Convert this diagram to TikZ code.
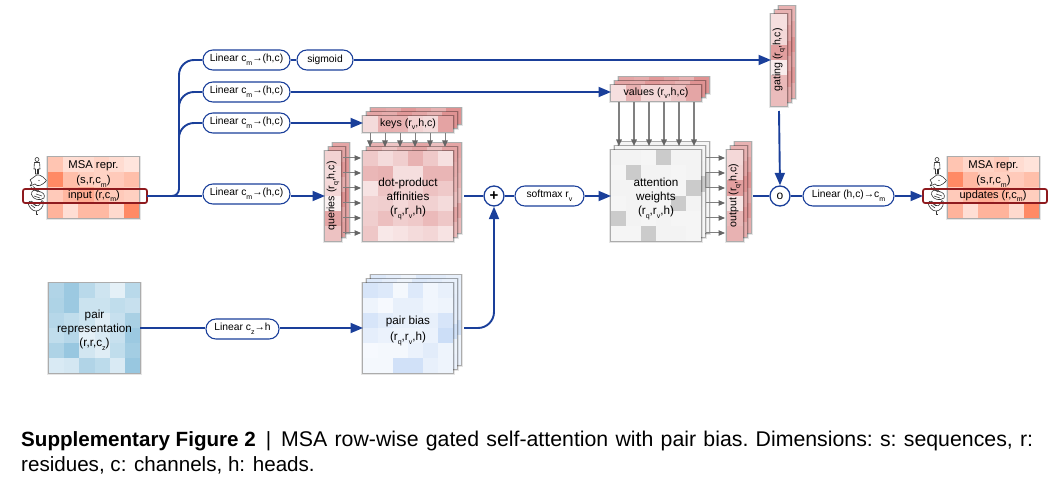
\documentclass[tikz,border=0pt]{standalone}
\usepackage{fontspec}
\usepackage{graphicx}
\setmainfont{Liberation Sans}
\usetikzlibrary{arrows.meta,calc}
\definecolor{flowblue}{HTML}{1A3F9A}
\definecolor{msabase}{HTML}{FF8A65}
\definecolor{pinkbase}{HTML}{D97F7F}
\definecolor{pairbase}{HTML}{93C4DE}
\definecolor{biasbase}{HTML}{C6DAF6}
\definecolor{graybase}{HTML}{A8A8A8}
\definecolor{boxred}{HTML}{8E1A1E}
\newcommand{\heatgrid}[7]{%
  \foreach \v [count=\i from 0] in {#7} {
    \pgfmathtruncatemacro\cx{mod(\i,#5)}
    \pgfmathtruncatemacro\cy{int(\i/#5)}
    \fill[#6!\v!white] ({#1+\cx*#3},{#2+\cy*#4}) rectangle +({#3+.2},{#4+.2});
  }}
\newcommand{\boxshadow}[4]{%
  \fill[black,opacity=.10] ({#1-1.6},{#2-1.2}) rectangle ({#1+#3+1.8},{#2+#4+2});
  \fill[black,opacity=.25] ({#1-.7},{#2-.5}) rectangle ({#1+#3+.9},{#2+#4+1.1});}
% x y cw ch cols rows base backlist frontlist
\newcommand{\stackgrid}[9]{%
  \pgfmathsetmacro\bw{#3*#5}\pgfmathsetmacro\bh{#4*#6}
  \boxshadow{#1+8}{#2-8}{\bw}{\bh}\heatgrid{#1+8}{#2-8}{#3}{#4}{#5}{#7}{#8}
  \boxshadow{#1+4}{#2-4}{\bw}{\bh}\heatgrid{#1+4}{#2-4}{#3}{#4}{#5}{#7}{#8}
  \boxshadow{#1}{#2}{\bw}{\bh}\heatgrid{#1}{#2}{#3}{#4}{#5}{#7}{#9}}
\newcommand{\sbs}[1]{\raisebox{-3.6pt}{\fontsize{7}{7}\selectfont #1}}
\newcommand{\lab}{\fontsize{11.7}{14.2}\selectfont}
\newcommand{\labm}{\fontsize{11.3}{15}\selectfont}
\newcommand{\labs}{\fontsize{10.6}{13}\selectfont}
\newcommand{\tstrut}{\rule{0pt}{14.5pt}}
\begin{document}
\begin{tikzpicture}[x=1pt,y=-1pt,
  flow/.style={draw=flowblue,line width=1.9pt},
  flowarrow/.style={flow,-{Triangle[length=12.5pt,width=10pt]}},
  thinarrow/.style={draw=black!50,line width=1pt,-{Triangle[length=6.5pt,width=5.5pt,color=black!60]}},
  pill/.style={draw=flowblue,line width=1.1pt,fill=white,rounded corners=9.9pt,minimum height=20pt,inner sep=0pt,font=\fontsize{10.3}{12}\selectfont},
  opcircle/.style={circle,draw=flowblue,line width=1.3pt,fill=white,minimum size=20pt,inner sep=0pt},
  cell/.style={anchor=north west,inner sep=0pt,outer sep=0pt,align=center},
  rowbox/.style={draw=boxred,line width=1.7pt,rounded corners=2pt,inner sep=0pt,outer sep=0pt,minimum width=124pt,minimum height=14pt,anchor=north west,font=\fontsize{11}{13}\selectfont},
  iconline/.style={draw=black!80,line width=.6pt,fill=white,line join=round},
  species/.pic={
    % human
    \draw[iconline] (0,-29.5) circle (2);
    \draw[iconline] (-2.6,-26.5) -- (2.6,-26.5) -- (3,-20) -- (1.5,-20) -- (1.5,-15) -- (-1.5,-15) -- (-1.5,-20) -- (-3,-20) -- cycle;
    \draw[iconline] (0,-20) -- (0,-15);
    % fish
    \draw[iconline] (-7,-9) -- (-3,-12) .. controls (0,-16) and (5,-14) .. (9.5,-8.5) .. controls (5,-3) and (0,-2) .. (-2,-5) -- (-7,-3) -- (-5,-6) -- cycle;
    \fill[black!80] (2,-8.5) circle (.7);
    % rabbit
    \draw[iconline] (-5.5,5.5) .. controls (-6,1) and (-2,0) .. (2,2.5) .. controls (6,3) and (8.5,6) .. (7,9) .. controls (3,12) and (-4,11) .. (-5.5,5.5);
    \draw[iconline] (-6,-1.5) -- (1,3) (-4,-2.5) -- (3,3) (-3,7) -- (3,9) (-1,5) -- (5,7);
    % rooster
    \draw[iconline] (-9,14) .. controls (-7,11) and (-4,12) .. (-3,15) .. controls (0,18) and (3,17) .. (4,13) .. controls (4,11) and (6,11) .. (6.5,13) .. controls (6.5,18) and (3,22) .. (-1,22) .. controls (-5,22) and (-8,18) .. (-9,14);
    \draw[iconline] (-1,22) -- (-1,25.5) -- (1,25.5);
    \draw[iconline] (-6,16) -- (-2,19) (-5,14) -- (-1,17);
  }]
\useasboundingbox (0,0) rectangle (1061,489);

% ----- grids
\boxshadow{48}{157}{91}{61}
\heatgrid{48}{157}{15.17}{15.25}{6}{msabase}{50,28,30,38,30,22, 100,55,42,38,45,55, 45,62,72,55,45,40, 65,28,60,60,32,100}
\boxshadow{948}{157}{91}{61}
\heatgrid{948}{157}{15.17}{15.25}{6}{msabase}{50,35,38,45,30,24, 100,60,42,40,45,55, 45,62,70,62,48,42, 65,28,65,65,32,100}
\stackgrid{363}{151}{15}{15}{6}{6}{pinkbase}{60,45,60,70,50,70,60,50,45,55,60,65,60,45,50,50,70,60,45,55,65,50,45,50,60,50,65,45,55,70,45,60,50,60,45,55}{42,28,38,60,42,24, 56,60,26,26,58,58, 22,46,36,34,48,42, 36,38,30,38,36,28, 38,50,38,42,54,44, 44,18,22,28,32,22}
\stackgrid{363}{116}{15}{16}{6}{1}{pinkbase}{70,65,80,70,60,85}{28,62,60,35,28,72}
\stackgrid{325}{151}{16}{15}{1}{6}{pinkbase}{70,80,65,85,70,75}{35,28,30,12,70,48}
\stackgrid{611}{85}{15}{16}{6}{1}{pinkbase}{70,65,80,70,60,85}{25,60,30,30,45,70}
\stackgrid{611}{150}{15}{15.17}{6}{6}{graybase}{12,12,14,12,14,12, 12,14,12,12,12,14, 14,12,12,14,12,60, 12,12,14,12,60,14, 14,12,12,14,12,12, 12,14,12,12,14,12}{14,14,12,60,14,14, 12,60,14,14,12,14, 14,14,12,14,12,60, 12,14,14,12,60,14, 60,14,12,14,12,12, 12,12,60,14,14,12}
\stackgrid{727}{150}{16}{15.17}{1}{6}{pinkbase}{60,70,85,70,80,65}{30,35,75,20,55,60}
\stackgrid{771}{14}{16}{15.33}{1}{6}{pinkbase}{60,70,85,70,80,65}{25,30,75,15,55,52}
\boxshadow{49}{283}{91}{90}
\heatgrid{49}{283}{15.17}{15}{6}{pairbase}{72,92,65,45,25,65, 75,92,48,48,58,52, 68,58,48,30,52,80, 58,68,25,35,52,92, 75,95,42,30,58,85, 35,40,72,62,35,95}
\stackgrid{363}{283}{15}{15}{6}{6}{biasbase}{60,45,30,60,50,40,40,25,50,35,60,45,60,45,50,30,70,45,40,30,50,60,35,80,30,50,25,45,40,30,40,30,60,50,40,35}{70,60,20,60,25,40, 30,15,40,40,25,30, 70,50,40,40,40,70, 45,35,30,30,35,90, 15,20,20,35,50,30, 20,20,80,80,40,30}

% ----- species icons
\pic at (37,189) {species};
\pic at (937,189) {species};

% ----- labelled boxes
\node[cell,minimum width=91pt,minimum height=31pt,font=\labm] (msaA) at (48,157) {\rule{0pt}{10.5pt}MSA repr.\\(s,r,c\sbs{m})};
\node[cell,minimum width=91pt,minimum height=31pt,font=\labm] (msaB) at (948,157) {\rule{0pt}{10.5pt}MSA repr.\\(s,r,c\sbs{m})};
\node[rowbox] (inbox) at (23,189) {\hspace*{18pt}input (r,c\sbs{m})};
\node[rowbox] (upbox) at (923,189) {\hspace*{16pt}updates (r,c\sbs{m})};
\node[cell,minimum width=90pt,minimum height=90pt,font=\lab] (affin) at (363,151) {\tstrut dot-product\\affinities\\(r\sbs{q},r\sbs{v},h)};
\node[cell,minimum width=90pt,minimum height=16pt,font=\labs] (keys) at (363,116) {keys (r\sbs{v},h,c)};
\node[cell,minimum width=16pt,minimum height=90pt,font=\labs] (queries) at (325,151) {\rotatebox{90}{queries (r\sbs{q},h,c)}};
\node[cell,minimum width=90pt,minimum height=16pt,font=\labs] (values) at (611,85) {values (r\sbs{v},h,c)};
\node[cell,minimum width=90pt,minimum height=91pt,font=\lab] (atten) at (611,150) {\tstrut attention\\weights\\(r\sbs{q},r\sbs{v},h)};
\node[cell,minimum width=16pt,minimum height=91pt,font=\labs] (output) at (727,150) {\rotatebox{90}{output (r\sbs{q},h,c)}};
\node[cell,minimum width=16pt,minimum height=92pt,font=\labs] (gating) at (771,14) {\rotatebox{90}{gating (r\sbs{q},h,c)}};
\node[cell,minimum width=91pt,minimum height=90pt,font=\lab] (pairrep) at (49,283) {\rule{0pt}{13pt}pair\\representation\\(r,r,c\sbs{z})};
\node[cell,minimum width=90pt,minimum height=90pt,font=\fontsize{11.7}{16}\selectfont] (pairbias) at (363,283) {\tstrut pair bias\\(r\sbs{q},r\sbs{v},h)};

% ----- junctions
\coordinate (trunk) at (179,196);
\coordinate (topA) at (179,60);
\coordinate (topB) at (179,92);
\coordinate (topC) at (179,123);
\coordinate (legB) at (179,125);
\coordinate (legC) at (179,153);

% ----- operation nodes
\node[pill,minimum width=87pt] (linA) at (246.5,60) {Linear c\sbs{m}→(h,c)};
\node[pill,minimum width=56pt] (sigm) at (325,60) {sigmoid};
\node[pill,minimum width=87pt] (linB) at (246.5,92) {Linear c\sbs{m}→(h,c)};
\node[pill,minimum width=87pt] (linC) at (246.5,123) {Linear c\sbs{m}→(h,c)};
\node[pill,minimum width=87pt] (linD) at (246.5,194) {Linear c\sbs{m}→(h,c)};
\node[pill,minimum width=73pt] (linZ) at (242.5,329) {Linear c\sbs{z}→h};
\node[pill,minimum width=69pt] (softm) at (549.5,196) {softmax r\sbs{v}};
\node[pill,minimum width=91pt] (linOut) at (848.5,196) {Linear (h,c)→c\sbs{m}};
\node[opcircle,font=\bfseries\fontsize{15}{15}\selectfont] (plus) at (494,196) {+};
\node[opcircle,font=\fontsize{12}{12}\selectfont] (dot) at (780,196) {o};

% ----- connectors
\draw[flow,rounded corners=7pt] (inbox.east) -- (trunk) -- (legB);
\draw[flow,rounded corners=15pt] (legB) -- (topA) -- (linA.west);
\draw[flow,rounded corners=15pt] (legB) -- (topB) -- (linB.west);
\draw[flow,rounded corners=15pt] (legC) -- (topC) -- (linC.west);
\draw[flow] (inbox.east) -- (inbox.east -| linD.west);
\draw[flowarrow] (queries.west -| linD.east) -- (queries.west);
\draw[flow] (linA.east) -- (sigm.west);
\draw[flowarrow] (sigm.east) -- (sigm.east -| gating.west);
\draw[flowarrow] (linB.east) -- (linB.east -| values.west);
\draw[flowarrow] (linC.east) -- (linC.east -| keys.west);
\draw[flow] ([xshift=11pt]affin.east) -- (plus.west);
\draw[flow] (plus.east) -- (softm.west);
\draw[flowarrow] (softm.east) -- (softm.east -| atten.west);
\draw[flow] (dot.west -| output.east) ++(10,0) -- (dot.west);
\draw[flow] (dot.east) -- (linOut.west);
\draw[flowarrow] (linOut.east) -- (linOut.east -| upbox.west);
\draw[flowarrow] ([yshift=-5pt]gating.south) -- (dot.north);
\draw[flow] (pairrep.east) -- (pairrep.east -| linZ.west);
\draw[flowarrow] (pairbias.west -| linZ.east) -- (pairbias.west);
\draw[flowarrow,rounded corners=16pt] ([xshift=11pt]pairbias.east) -- (pairbias.east -| plus.south) -- (plus.south);

% ----- thin arrows
\foreach \k in {7,22,37,52,67,82} {
  \draw[thinarrow] ([xshift=\k pt,yshift=-1pt]keys.south west) -- ([xshift=\k pt,yshift=4pt]affin.north west);
  \draw[thinarrow] ([yshift=-\k pt,xshift=2pt]queries.north east) -- ([yshift=-\k pt,xshift=-2pt]affin.north west);
  \draw[thinarrow,line width=1.5pt] ([xshift=\k pt+1pt,yshift=-1pt]values.south west) -- ([xshift=\k pt+1pt,yshift=4pt]atten.north west);
  \draw[thinarrow] ([yshift=-\k pt-1pt,xshift=5pt]atten.north east) -- ([yshift=-\k pt-1pt,xshift=-2pt]output.north west);
}

% ----- caption
\node[anchor=base west,inner sep=0pt,font=\fontsize{20.6}{25}\selectfont,align=left] (caption) at (21,471) {\frenchspacing\hbox to 1012pt{\mbox{\textbf{Supplementary Figure 2}}\hspace{10pt}|\hspace{10pt}{\fontsize{21.3}{25}\selectfont MSA row-wise gated self-attention with pair bias. Dimensions: s: sequences, r:}}\\residues, c: channels, h: heads.};
\end{tikzpicture}
\end{document}
